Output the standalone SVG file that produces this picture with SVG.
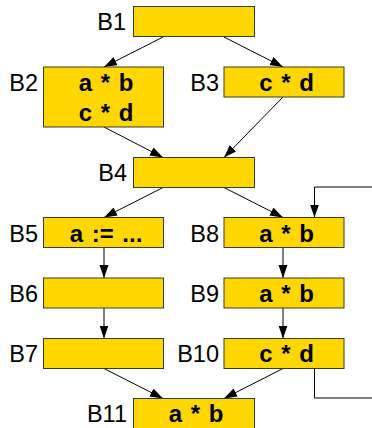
<svg xmlns="http://www.w3.org/2000/svg" width="372" height="428" viewBox="0 0 372 428">
<defs>
<style>
.box{fill:#FFD700;stroke:#3a3a2a;stroke-width:1}
.lbl{font-family:"Liberation Sans",Arial,sans-serif;font-size:23.5px;fill:#000;text-anchor:end}
.code{font-family:"Liberation Sans",Arial,sans-serif;font-size:24px;font-weight:bold;fill:#000;text-anchor:middle;word-spacing:2px}
.edge{stroke:#000;stroke-width:1;fill:none;marker-end:url(#ah)}
.line{stroke:#000;stroke-width:1;fill:none}
</style>
<marker id="ah" markerUnits="userSpaceOnUse" markerWidth="14" markerHeight="10" refX="13" refY="4.5" orient="auto">
<path d="M0,0 L13,4.5 L0,9 z" fill="#000"/>
</marker>
</defs>
<rect width="372" height="428" fill="#fff"/>
<g id="connectors">
<line class="edge" x1="163" y1="37" x2="104" y2="67"/>
<line class="edge" x1="224" y1="37" x2="283" y2="67"/>
<line class="edge" x1="104" y1="127" x2="163" y2="157.5"/>
<line class="edge" x1="283" y1="97" x2="224" y2="157.5"/>
<line class="edge" x1="163" y1="187.5" x2="104" y2="217.5"/>
<line class="edge" x1="224" y1="187.5" x2="283" y2="217.5"/>
<line class="edge" x1="104" y1="247.5" x2="104" y2="278"/>
<line class="edge" x1="283" y1="247.5" x2="283" y2="278"/>
<line class="edge" x1="104" y1="308" x2="104" y2="338.5"/>
<line class="edge" x1="283" y1="308" x2="283" y2="338.5"/>
<line class="edge" x1="104" y1="368.5" x2="163" y2="398.5"/>
<line class="edge" x1="283" y1="368.5" x2="224" y2="398.5"/>
<polyline class="line" points="314.5,368.5 314.5,398 380,398"/>
<polyline class="edge" points="380,187 314.5,187 314.5,217.5"/>
</g>
<g id="B1"><rect class="box" x="133.5" y="6.5" width="121" height="30"/><text class="lbl" x="126" y="30">B1</text></g>
<g id="B2"><rect class="box" x="43.5" y="67" width="120" height="60"/><text class="lbl" x="38" y="91">B2</text><text class="code" x="106" y="91">a * b</text><text class="code" x="106" y="121">c * d</text></g>
<g id="B3"><rect class="box" x="224" y="67" width="120" height="30"/><text class="lbl" x="219" y="91">B3</text><text class="code" x="286.5" y="91">c * d</text></g>
<g id="B4"><rect class="box" x="133.5" y="157.5" width="121" height="30"/><text class="lbl" x="127" y="181">B4</text></g>
<g id="B5"><rect class="box" x="43.5" y="217.5" width="120" height="30"/><text class="lbl" x="38" y="241.5">B5</text><text class="code" x="106" y="241.5">a := ...</text></g>
<g id="B8"><rect class="box" x="224" y="217.5" width="120" height="30"/><text class="lbl" x="219" y="241.5">B8</text><text class="code" x="286.5" y="241.5">a * b</text></g>
<g id="B6"><rect class="box" x="43.5" y="278" width="120" height="30"/><text class="lbl" x="38" y="301.5">B6</text></g>
<g id="B9"><rect class="box" x="224" y="278" width="120" height="30"/><text class="lbl" x="219" y="301.5">B9</text><text class="code" x="286.5" y="301.5">a * b</text></g>
<g id="B7"><rect class="box" x="43.5" y="338.5" width="120" height="30"/><text class="lbl" x="38" y="362">B7</text></g>
<g id="B10"><rect class="box" x="224" y="338.5" width="120" height="30"/><text class="lbl" x="219" y="362">B10</text><text class="code" x="286.5" y="362">c * d</text></g>
<g id="B11"><rect class="box" x="133.5" y="398.5" width="121" height="34"/><text class="lbl" x="127" y="422">B11</text><text class="code" x="196" y="422">a * b</text></g>
</svg>
